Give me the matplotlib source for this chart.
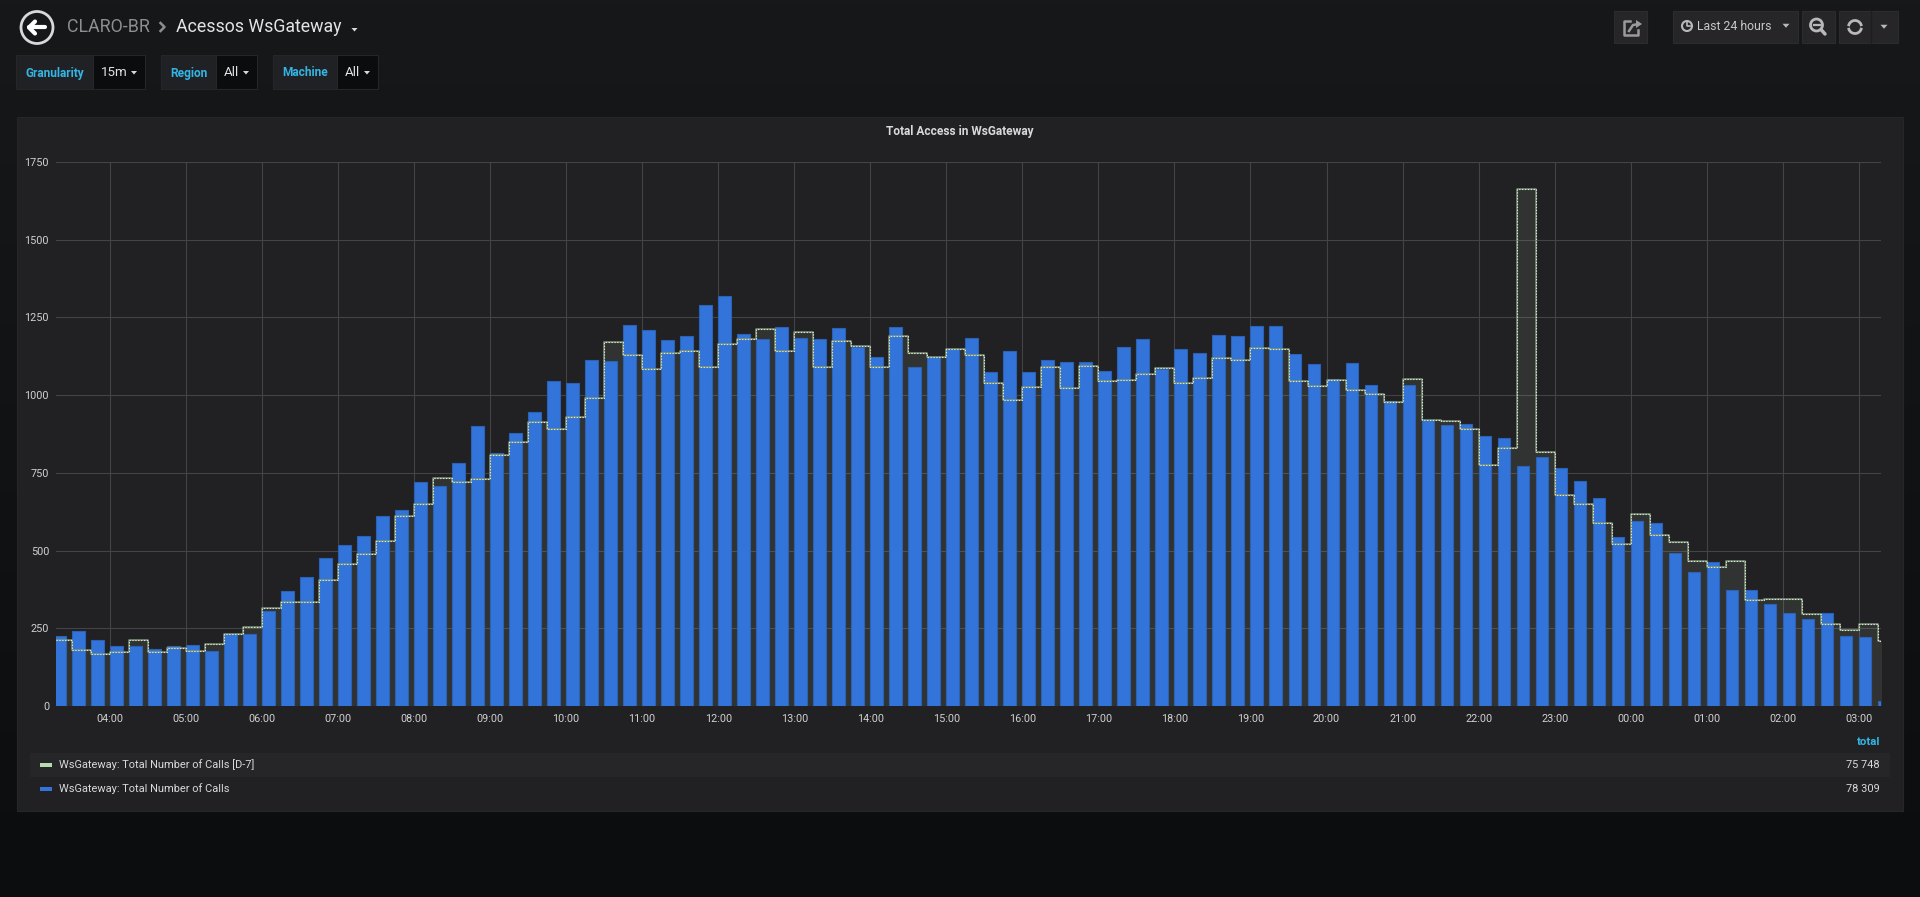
import numpy as np
import pandas as pd
import matplotlib
matplotlib.use("Agg")
import matplotlib.pyplot as plt
import matplotlib.dates as mdates
from matplotlib.patches import Rectangle, Circle, Polygon

plt.rcParams['font.family'] = ['Roboto', 'DejaVu Sans']

# ---- data (15 min buckets, 03:15 -> 03:15 next day) ----
start_time = "2019-05-20 03:15"
total_calls = [
    226, 240, 212,
    192, 193, 184, 192,
    196, 178, 231, 231,
    307, 369, 416, 475,
    519, 548, 611, 631,
    719, 707, 783, 900,
    814, 878, 946, 1046,
    1040, 1113, 1111, 1227,
    1210, 1176, 1190, 1290,
    1319, 1196, 1180, 1218,
    1185, 1180, 1215, 1156,
    1123, 1218, 1092, 1123,
    1150, 1184, 1074, 1143,
    1073, 1113, 1107, 1107,
    1078, 1156, 1179, 1085,
    1149, 1136, 1192, 1189,
    1221, 1221, 1131, 1100,
    1051, 1103, 1034, 981,
    1032, 919, 905, 906,
    867, 862, 773, 802,
    766, 725, 668, 543,
    596, 590, 492, 430,
    463, 372, 372, 329,
    300, 279, 300, 225,
    223, 15,
]
total_calls_d7 = [
    212, 180, 168,
    174, 211, 173, 185,
    178, 199, 231, 255,
    316, 335, 334, 404,
    457, 490, 531, 612,
    649, 734, 719, 731,
    807, 848, 912, 891,
    930, 991, 1170, 1128,
    1083, 1136, 1143, 1090,
    1165, 1179, 1212, 1142,
    1204, 1090, 1173, 1157,
    1092, 1189, 1137, 1124,
    1149, 1128, 1038, 984,
    1025, 1089, 1024, 1093,
    1046, 1048, 1067, 1086,
    1038, 1055, 1121, 1114,
    1153, 1150, 1046, 1030,
    1050, 1016, 1003, 978,
    1051, 919, 918, 891,
    776, 831, 1663, 818,
    678, 650, 589, 520,
    619, 550, 529, 465,
    446, 466, 341, 344,
    344, 297, 264, 245,
    265, 208,
]
legend_names = ["WsGateway: Total Number of Calls [D-7]", "WsGateway: Total Number of Calls"]
legend_totals = ["75 748", "78 309"]
y_ticks = [0, 250, 500, 750, 1000, 1250, 1500, 1750]

times = pd.date_range(start_time, periods=len(total_calls), freq="15min")
x = mdates.date2num(times.to_pydatetime())
step = 15 / 1440.0

# ---- figure ----
W, H = 1920, 897
fig = plt.figure(figsize=(W / 100, H / 100), dpi=100)

bg = fig.add_axes([0, 0, 1, 1])
bg.set_xlim(0, W)
bg.set_ylim(H, 0)
bg.axis('off')

# page background (dark gradient)
top_c = np.array([0x17, 0x18, 0x1a]) / 255
bot_c = np.array([0x0c, 0x0d, 0x0f]) / 255
t = np.linspace(0, 1, 256)[:, None]
grad = (top_c[None, :] * (1 - t) + bot_c[None, :] * t)[:, None, :]
bg.imshow(grad, extent=[0, W, H, 0], aspect='auto', zorder=0)


def box(x0, y0, x1, y1, fc, ec='none', lw=0, z=1):
    bg.add_patch(Rectangle((x0, y0), x1 - x0, y1 - y0, fc=fc, ec=ec, lw=lw, zorder=z))


def caret(cx, cy, s=3.5, color='#d8d9da'):
    bg.add_patch(Polygon([(cx - s, cy - s / 2), (cx + s, cy - s / 2), (cx, cy + s / 2 + 0.5)],
                         closed=True, fc=color, ec='none', zorder=3))


# ---- header ----
bg.add_patch(Circle((37, 27.5), 16, fill=False, ec='#d8d9da', lw=2, zorder=3))
bg.plot([29, 45], [27.5, 27.5], color='#ffffff', lw=3, solid_capstyle='round', zorder=4)
bg.plot([35, 29, 35], [21.5, 27.5, 33.5], color='#ffffff', lw=3, solid_capstyle='round',
        solid_joinstyle='round', zorder=4)
bg.text(67, 27, "CLARO-BR", color='#8e8e8e', fontsize=12.8, va='center', ha='left', zorder=3)
bg.plot([160.5, 164.5, 160.5], [23, 27, 31], color='#8e8e8e', lw=1.8, zorder=3)
bg.text(176, 27, "Acessos WsGateway", color='#e3e3e3', fontsize=12.8, va='center', ha='left', zorder=3)
caret(354.5, 29.5, 3)

# template variables
variables = [("Granularity", "15m", 16, 93, 145), ("Region", "All", 161, 216, 257),
             ("Machine", "All", 273, 337, 378)]
for label, value, x0, x1, x2 in variables:
    box(x0, 55, x1, 89, '#202124', ec='#262628', lw=0.8)
    box(x1, 55, x2, 89, '#0b0c0e', ec='#262628', lw=0.8)
    bg.text(x0 + 9, 73, label, color='#33b5e5', fontsize=8.6, fontweight='bold', va='center', ha='left', zorder=3)
    bg.text(x1 + 8, 73, value, color='#e3e3e3', fontsize=9.6, va='center', ha='left', zorder=3)
    caret(x2 - 11, 72.5, 3)

# top-right buttons
for x0, x1 in [(1614, 1647), (1673, 1798), (1802, 1835), (1839, 1898)]:
    box(x0, 11, x1, 43, '#262628', ec='#2c2c2e', lw=0.8)
bg.plot([1871, 1871], [11, 43], color='#1e1e20', lw=1, zorder=3)
# share icon
bg.plot([1630, 1624, 1624, 1638, 1638], [21, 21, 35, 35, 30], color='#9a9a9a', lw=1.8, zorder=3)
bg.plot([1629, 1633, 1639], [31, 25, 24], color='#9a9a9a', lw=1.8, zorder=3)
bg.add_patch(Polygon([(1636, 20), (1642, 24), (1636, 28)], fc='#9a9a9a', ec='none', zorder=3))
# clock + time range
bg.add_patch(Circle((1687, 26), 5, fill=False, ec='#b8b8b8', lw=1.5, zorder=3))
bg.plot([1687, 1687, 1690], [22.5, 26, 26], color='#b8b8b8', lw=1.2, zorder=3)
bg.text(1697, 26.5, "Last 24 hours", color='#c8c8c8', fontsize=8.8, va='center', ha='left', zorder=3)
caret(1786, 25.5, 3.5, '#b8b8b8')
# zoom out
bg.add_patch(Circle((1816.5, 25), 6, fill=False, ec='#b8b8b8', lw=2, zorder=3))
bg.plot([1813.5, 1819.5], [25, 25], color='#b8b8b8', lw=1.6, zorder=3)
bg.plot([1821, 1825], [29.5, 34], color='#b8b8b8', lw=2.5, solid_capstyle='round', zorder=3)
# refresh
th = np.linspace(0.35, 2.8, 30)
bg.plot(1855 + 6.5 * np.cos(th), 27 - 6.5 * np.sin(th), color='#b8b8b8', lw=2, zorder=3)
bg.plot(1855 - 6.5 * np.cos(th), 27 + 6.5 * np.sin(th), color='#b8b8b8', lw=2, zorder=3)
caret(1884, 26.5, 3.5, '#b8b8b8')

# ---- panel ----
box(17, 117, 1903, 811, '#212124', ec='#262628', lw=0.8)
bg.text(960, 131, "Total Access in WsGateway", color='#d8d9da', fontsize=8.6, fontweight='bold',
        va='center', ha='center', zorder=3)

# legend
bg.text(1880, 742, "total", color='#33b5e5', fontsize=8.2, fontweight='bold', va='center', ha='right', zorder=3)
box(30, 753, 1890, 777, '#262629', z=2)
legend_colors = ['#b7dbab', '#3274d9']
for i, (name, tot, col) in enumerate(zip(legend_names, legend_totals, legend_colors)):
    yc = 765 + 24 * i
    bg.add_patch(Rectangle((40, yc - 1.8), 12, 3.6, fc=col, ec='none', zorder=3))
    bg.text(59, yc, name, color='#d8d9da', fontsize=7.9, va='center', ha='left', zorder=3)
    bg.text(1880, yc, tot, color='#d8d9da', fontsize=7.9, va='center', ha='right', zorder=3)

# ---- chart ----
ax = fig.add_axes([56 / W, 1 - 706 / H, (1881 - 56) / W, (706 - 162) / H])
ax.set_facecolor('none')
for s in ax.spines.values():
    s.set_visible(False)

x_step = np.append(x, x[-1] + step)
d7_step = np.append(total_calls_d7, total_calls_d7[-1])
ax.fill_between(x_step, d7_step, step='post', color='#b7dbab', alpha=0.1, lw=0, zorder=1)
ax.bar(x, total_calls, width=step * 2 / 3, align='edge', color='#3274d9', edgecolor='#2b62b6',
       linewidth=0.8, zorder=2)
# D-7 outline: faint green base with light dots on top
ax.step(x_step, d7_step, where='post', color='#7d9479', lw=1.1, zorder=3)
ax.step(x_step, d7_step, where='post', color='#dbe9d5', lw=0.8, linestyle=(0, (1.2, 1.4)), zorder=4)

ax.set_ylim(0, 1750)
ax.set_yticks(y_ticks)
x0 = mdates.date2num(pd.Timestamp("2019-05-20 03:17:30"))
ax.set_xlim(x0, x0 + 1.0)
ax.xaxis.set_major_locator(mdates.HourLocator())
ax.xaxis.set_major_formatter(mdates.DateFormatter('%H:%M'))
ax.grid(True, color='#444446', lw=0.8, zorder=0)
ax.set_axisbelow(True)
ax.tick_params(axis='both', length=0, colors='#d0d0d0', labelsize=7.8)
ax.tick_params(axis='x', pad=6)
ax.tick_params(axis='y', pad=5)

fig.savefig('out.png', dpi=100, facecolor='#161719')
